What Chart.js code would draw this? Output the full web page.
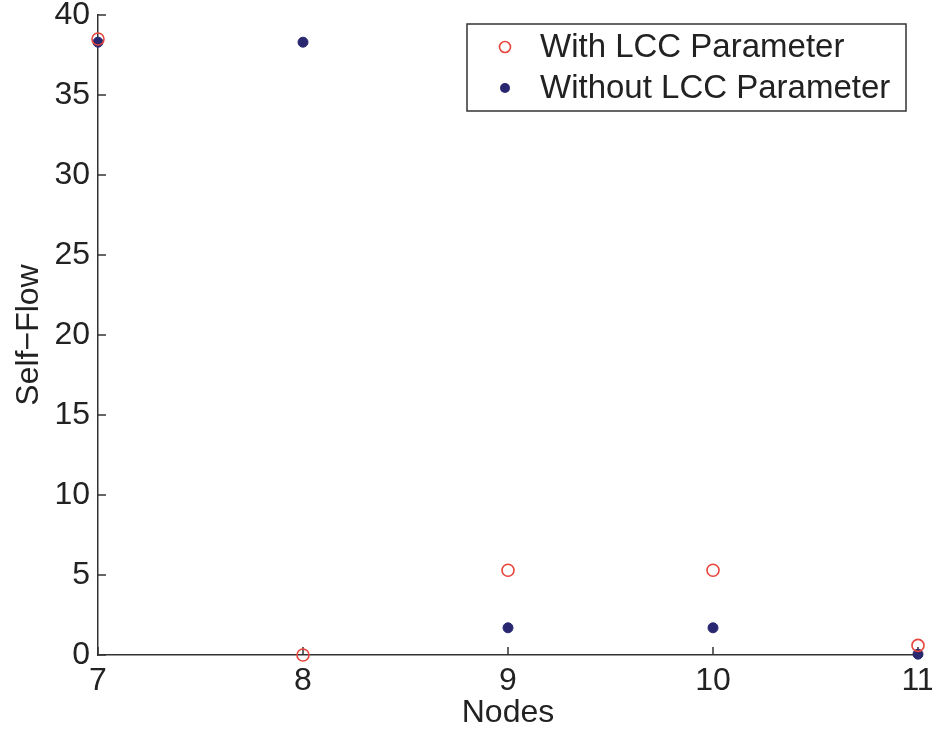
<!DOCTYPE html>
<html>
<head>
  <title>Self-Flow by Node</title>
  <script src="https://cdn.jsdelivr.net/npm/chart.js"></script>
  <style>
    body { margin: 0; background: #fff; }
    #wrap { width: 932px; height: 732px; }
  </style>
</head>
<body>
<div id="wrap"><canvas id="flowChart" width="932" height="732"></canvas></div>

<script>
  const nodes = [7, 8, 9, 10, 11];
  const withLcc = [38.5, 0, 5.3, 5.3, 0.6];
  const withoutLcc = [38.3, 38.3, 1.7, 1.7, 0.05];
  const yTicks = [0, 5, 10, 15, 20, 25, 30, 35, 40];
  const seriesNames = ['With LCC Parameter', 'Without LCC Parameter'];

  const FONT = "'Liberation Sans', Helvetica, Arial, sans-serif";
  const INK = '#222';
  const AXIS = '#333';
  const RED = '#e8453c';
  const BLUE = '#28276f';

  // matlab style ticks that point into the plot
  const inwardTicks = {
    id: 'inwardTicks',
    beforeDatasetsDraw(chart) {
      const { ctx, chartArea, scales } = chart;
      ctx.save();
      ctx.strokeStyle = AXIS;
      ctx.lineWidth = 1.5;
      ctx.beginPath();
      scales.x.ticks.forEach(t => {
        const px = scales.x.getPixelForValue(t.value);
        ctx.moveTo(px, chartArea.bottom);
        ctx.lineTo(px, chartArea.bottom - 8);
      });
      scales.y.ticks.forEach(t => {
        const py = scales.y.getPixelForValue(t.value);
        ctx.moveTo(chartArea.left, py);
        ctx.lineTo(chartArea.left + 8, py);
      });
      ctx.stroke();
      ctx.restore();
    }
  };

  // boxed legend in the top right corner
  const boxLegend = {
    id: 'boxLegend',
    afterDraw(chart) {
      const { ctx } = chart;
      const x0 = 467, y0 = 24, w = 439, h = 87;
      ctx.save();
      ctx.fillStyle = '#fff';
      ctx.fillRect(x0, y0, w, h);
      ctx.strokeStyle = AXIS;
      ctx.lineWidth = 1.5;
      ctx.strokeRect(x0, y0, w, h);
      ctx.font = '33px ' + FONT;
      ctx.textBaseline = 'middle';
      chart.data.datasets.forEach((ds, i) => {
        const cy = y0 + 23 + i * 41;
        ctx.beginPath();
        ctx.arc(x0 + 38, cy, i === 0 ? 5.5 : 5, 0, Math.PI * 2);
        if (i === 0) {
          ctx.strokeStyle = ds.borderColor;
          ctx.lineWidth = 1.6;
          ctx.stroke();
        } else {
          ctx.fillStyle = ds.backgroundColor;
          ctx.fill();
        }
        ctx.fillStyle = INK;
        ctx.fillText(ds.label, x0 + 73, cy + 1);
      });
      ctx.restore();
    }
  };

  new Chart(document.getElementById('flowChart'), {
    type: 'scatter',
    data: {
      datasets: [
        {
          label: seriesNames[0],
          data: nodes.map((n, i) => ({ x: n, y: withLcc[i] })),
          pointStyle: 'circle',
          pointRadius: 6,
          pointBorderWidth: 1.6,
          borderColor: RED,
          backgroundColor: 'rgba(0,0,0,0)',
          clip: false
        },
        {
          label: seriesNames[1],
          data: nodes.map((n, i) => ({ x: n, y: withoutLcc[i] })),
          pointStyle: 'circle',
          pointRadius: 5,
          pointBorderWidth: 1,
          borderColor: BLUE,
          backgroundColor: BLUE,
          clip: false
        }
      ]
    },
    options: {
      responsive: false,
      animation: false,
      devicePixelRatio: 1,
      layout: { padding: { top: 15, right: 14, left: 0, bottom: 0 } },
      plugins: {
        legend: { display: false },
        tooltip: { enabled: false }
      },
      scales: {
        x: {
          type: 'linear',
          min: nodes[0],
          max: nodes[nodes.length - 1],
          afterBuildTicks: s => { s.ticks = nodes.map(v => ({ value: v })); },
          afterFit: s => { s.height = 77; s.paddingLeft = 0; s.paddingRight = 0; },
          grid: { display: false, drawTicks: false },
          border: { display: true, color: AXIS, width: 1.5 },
          ticks: { color: INK, font: { family: FONT, size: 32 }, padding: 7, maxRotation: 0 },
          title: {
            display: true,
            text: 'Nodes',
            color: INK,
            font: { family: FONT, size: 32 },
            padding: { top: 0, bottom: 0 }
          }
        },
        y: {
          min: yTicks[0],
          max: yTicks[yTicks.length - 1],
          afterBuildTicks: s => { s.ticks = yTicks.map(v => ({ value: v })); },
          afterFit: s => { s.width = 98; s.paddingTop = 0; s.paddingBottom = 0; },
          grid: { display: false, drawTicks: false },
          border: { display: true, color: AXIS, width: 1.5 },
          ticks: { color: INK, font: { family: FONT, size: 32 }, padding: 8 },
          title: {
            display: true,
            text: 'Self\u2212Flow',
            color: INK,
            font: { family: FONT, size: 32 },
            padding: { top: 10, bottom: 0 }
          }
        }
      }
    },
    plugins: [inwardTicks, boxLegend]
  });
</script>
</body>
</html>
